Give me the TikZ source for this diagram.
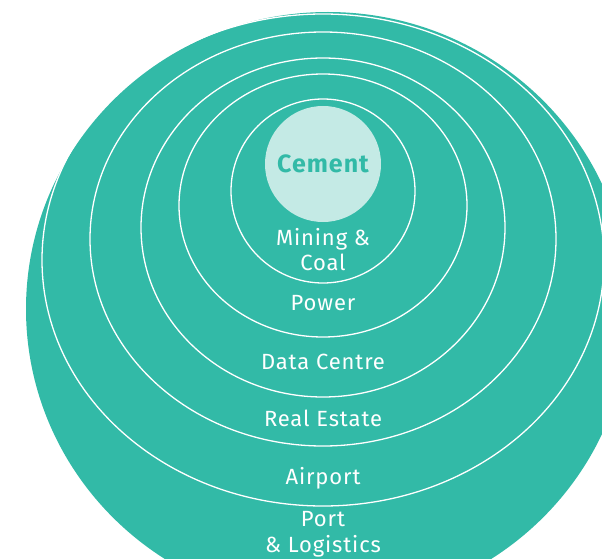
\documentclass[tikz,border=0pt]{standalone}
\usepackage{fontspec}
\setmainfont{Fira Sans}
\newfontfamily\ringfont[LetterSpace=4]{Fira Sans}
\usetikzlibrary{positioning}
\definecolor{seagreen}{HTML}{32BAA7}
\definecolor{mint}{HTML}{C4EAE5}

\begin{document}
\begin{tikzpicture} [
	x=1pt, y=-1pt,
	ring/.style = {draw=white, line width=1.3pt},
	sector/.style = {text=white, align=center, font=\ringfont\fontsize{22}{24.5}\selectfont},
	core/.style = {circle, fill=mint, minimum size=116pt, inner sep=0pt, text=seagreen, font=\ringfont\fontsize{25}{28}\selectfont\bfseries},
]
\useasboundingbox (0,0) rectangle (602,559);
\clip (0,0) rectangle (602,559);
\fill [seagreen] (328,309) ellipse [x radius=302pt, y radius=297pt];
\draw [ring] (323,260) ellipse [x radius=281pt, y radius=246pt];
\draw [ring] (323,239) ellipse [x radius=233pt, y radius=207pt];
\draw [ring] (323,227.5) ellipse [x radius=182pt, y radius=169.5pt];
\draw [ring] (323,205.5) ellipse [x radius=144pt, y radius=131.5pt];
\draw [ring] (323,191) circle [radius=92pt];
\node [core] (cement) at (323,164) {Cement};
\node [sector] (mining) at (323,249.5) {Mining \&\\Coal};
\node [sector] (power) at (323,303) {Power};
\node [sector] (datacentre) at (323,362) {Data Centre};
\node [sector] (realestate) at (323,418) {Real Estate};
\node [sector] (airport) at (323,478) {Airport};
\node [sector, font=\ringfont\fontsize{22}{25.5}\selectfont] (port) at (323,534.5) {Port\\\& Logistics};
\end{tikzpicture}
\end{document}
